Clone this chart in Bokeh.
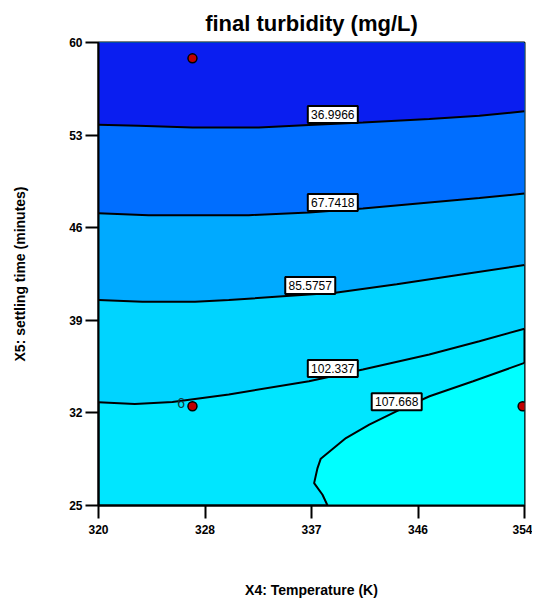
from bokeh.plotting import figure
from bokeh.models import Range1d, FixedTicker
from bokeh.embed import file_html
from bokeh.resources import INLINE
from bokeh.core.properties import value

# ---- axes ----
temp_ticks = [320, 328.5, 337, 345.5, 354]
temp_tick_labels = ["320", "328", "337", "346", "354"]
time_ticks = [25, 32, 39, 46, 53, 60]

# ---- contour lines (Temperature K, settling time min) ----
level_labels = ["36.9966", "67.7418", "85.5757", "102.337", "107.668"]

c1_x = [320.0, 323.2, 327.5, 332.8, 336.8, 341.1, 346.4, 350.4, 354.0]
c1_y = [53.79, 53.71, 53.58, 53.58, 53.77, 53.96, 54.22, 54.47, 54.80]

c2_x = [320.0, 324.0, 332.0, 336.8, 341.1, 346.4, 350.4, 354.0]
c2_y = [47.10, 46.95, 46.95, 47.14, 47.45, 47.90, 48.24, 48.59]

c3_x = [320.0, 323.5, 327.7, 330.4, 335.0, 338.9, 343.8, 349.1, 354.0]
c3_y = [40.53, 40.40, 40.40, 40.53, 40.83, 41.08, 41.72, 42.48, 43.18]

c4_x = [320.0, 322.9, 325.9, 330.4, 336.8, 341.1, 346.4, 350.4, 354.0]
c4_y = [32.80, 32.67, 32.82, 33.39, 34.39, 35.28, 36.42, 37.42, 38.36]

c5_x = [338.28, 337.88, 337.21, 337.48, 337.74, 339.75, 341.61, 343.89, 346.42, 349.90, 354.0]
c5_y = [25.0, 25.81, 26.69, 27.83, 28.54, 30.10, 31.11, 32.17, 33.26, 34.39, 35.78]

# contour label anchors
label_x = [338.7, 338.7, 336.9, 338.7, 343.8]
label_y = [54.55, 47.90, 41.64, 35.36, 32.84]

# design points
design_x = [327.5, 327.5, 353.85]
design_y = [58.8, 32.5, 32.5]
replicate_x = [326.6]
replicate_y = [32.73]
replicate_text = ["6"]

# region colours (top -> bottom right)
region_colors = ["#0A1EF0", "#006EFF", "#00AAFF", "#00D4FF", "#00E6FF", "#00FFFF"]

X0, X1 = 320, 354
Y0, Y1 = 25, 60

p = figure(width=532, height=600, x_range=Range1d(X0, X1), y_range=Range1d(Y0, Y1),
           output_backend="svg", toolbar_location=None,
           min_border_left=98, min_border_right=8, min_border_top=42, min_border_bottom=93)

p.background_fill_color = region_colors[4]
p.border_fill_color = "white"
p.outline_line_color = "black"
p.outline_line_width = 2
p.xgrid.visible = False
p.ygrid.visible = False

# filled regions (layered)
p.patch(c5_x + [X1], c5_y + [Y0], fill_color=region_colors[5], line_color=None)
lines = [(c1_x, c1_y), (c2_x, c2_y), (c3_x, c3_y), (c4_x, c4_y)]
for i in (3, 2, 1, 0):
    lx, ly = lines[i]
    p.patch(lx + [X1, X0], ly + [Y1, Y1], fill_color=region_colors[i], line_color=None)

# contour lines
for lx, ly in lines + [(c5_x, c5_y)]:
    p.line(lx, ly, line_color="black", line_width=2)

# contour labels
p.rect(label_x, label_y, width=50, height=17, width_units="screen", height_units="screen",
       fill_color="white", line_color="black", line_width=2)
p.text(label_x, label_y, text=level_labels, text_align="center", text_baseline="middle",
       text_font=value("Liberation Sans"), text_font_size="12px", text_color="black")

# design points
p.scatter(design_x, design_y, size=9, fill_color="#C00000", line_color="black", line_width=1.5)
p.text(replicate_x, replicate_y, text=replicate_text, text_align="center", text_baseline="middle",
       text_font=value("Liberation Sans"), text_font_size="14px", text_color="#103A40")

# title
p.title.text = "final turbidity (mg/L)"
p.title.align = "center"
p.title.text_font = "Liberation Sans"
p.title.text_font_size = "22px"
p.title.text_font_style = "bold"
p.title.text_color = "black"
p.title.standoff = 14

# axes
for ax in (p.xaxis[0], p.yaxis[0]):
    ax.major_tick_out = 13
    ax.major_tick_in = 0
    ax.minor_tick_out = 0
    ax.minor_tick_in = 0
    ax.axis_line_width = 2
    ax.axis_line_color = "black"
    ax.major_tick_line_width = 2
    ax.major_tick_line_color = "black"
    ax.major_label_text_color = "black"
    ax.major_label_text_font = "Liberation Sans"
    ax.major_label_text_font_style = "bold"
    ax.major_label_text_font_size = "12px"
    ax.axis_label_text_color = "black"
    ax.axis_label_text_font = "Liberation Sans"
    ax.axis_label_text_font_style = "bold"
    ax.axis_label_text_font_size = "14px"

p.xaxis.ticker = FixedTicker(ticks=temp_ticks)
p.xaxis.major_label_overrides = dict(zip(temp_ticks, temp_tick_labels))
p.xaxis.axis_label = "X4: Temperature (K)"
p.xaxis.major_label_standoff = 6
p.xaxis.axis_label_standoff = 45

p.yaxis.ticker = FixedTicker(ticks=time_ticks)
p.yaxis.axis_label = "X5: settling time (minutes)"
p.yaxis.major_label_standoff = 3
p.yaxis.axis_label_standoff = 38

open("out.html", "w").write(file_html(p, INLINE))
